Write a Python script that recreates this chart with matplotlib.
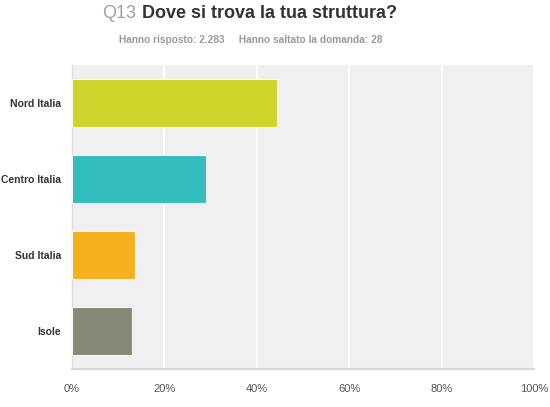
import matplotlib.pyplot as plt
from matplotlib.ticker import FuncFormatter

plt.rcParams['font.family'] = ['Liberation Sans', 'DejaVu Sans']

categorie = ["Nord Italia", "Centro Italia", "Sud Italia", "Isole"]
percentuali = [44.4, 28.9, 13.7, 12.9]
colori = ["#cdd42a", "#33bdbf", "#f7b01d", "#878876"]
ticks = [0, 20, 40, 60, 80, 100]

fig = plt.figure(figsize=(5.5, 4.07), dpi=100)
ax = fig.add_axes([72/550, 1-369/407, (534-72)/550, (369-65)/407])
ax.set_facecolor("#f0f0f0")

y = list(range(len(categorie)))
ax.barh(y, percentuali, height=0.64, color=colori, edgecolor="#f7f7f7", linewidth=0.8, zorder=3)
ax.set_ylim(len(categorie)-0.5, -0.5)
ax.set_xlim(0, 100)
ax.set_xticks(ticks)
ax.xaxis.set_major_formatter(FuncFormatter(lambda v, p: "%d%%" % v))
ax.set_yticks(y)
ax.set_yticklabels(categorie, fontsize=7.5, fontweight="bold", color="#333333")
ax.tick_params(axis="x", length=0, pad=11, labelsize=8, labelcolor="#555555")
ax.tick_params(axis="y", length=0, pad=8)
ax.grid(axis="x", color="white", linewidth=1.3, zorder=1)
for s in ["top", "right"]:
    ax.spines[s].set_visible(False)
ax.spines["left"].set_color("#dcdcdc")
ax.spines["left"].set_linewidth(1.0)
ax.spines["bottom"].set_color("#d6d6d6")
ax.spines["bottom"].set_linewidth(1.5)

fig.text(102/550, 1-13/407, "Q13", fontsize=13, color="#a0a0a0", va="center", ha="left")
fig.text(142/550, 1-13/407, "Dove si trova la tua struttura?", fontsize=13, color="#333333",
         fontweight="bold", va="center", ha="left")
fig.text(251/550, 1-40/407, "Hanno risposto: 2.283     Hanno saltato la domanda: 28",
         fontsize=7.3, color="#9a9a9a", fontweight="bold", va="center", ha="center")

fig.savefig("out.png", dpi=100)
